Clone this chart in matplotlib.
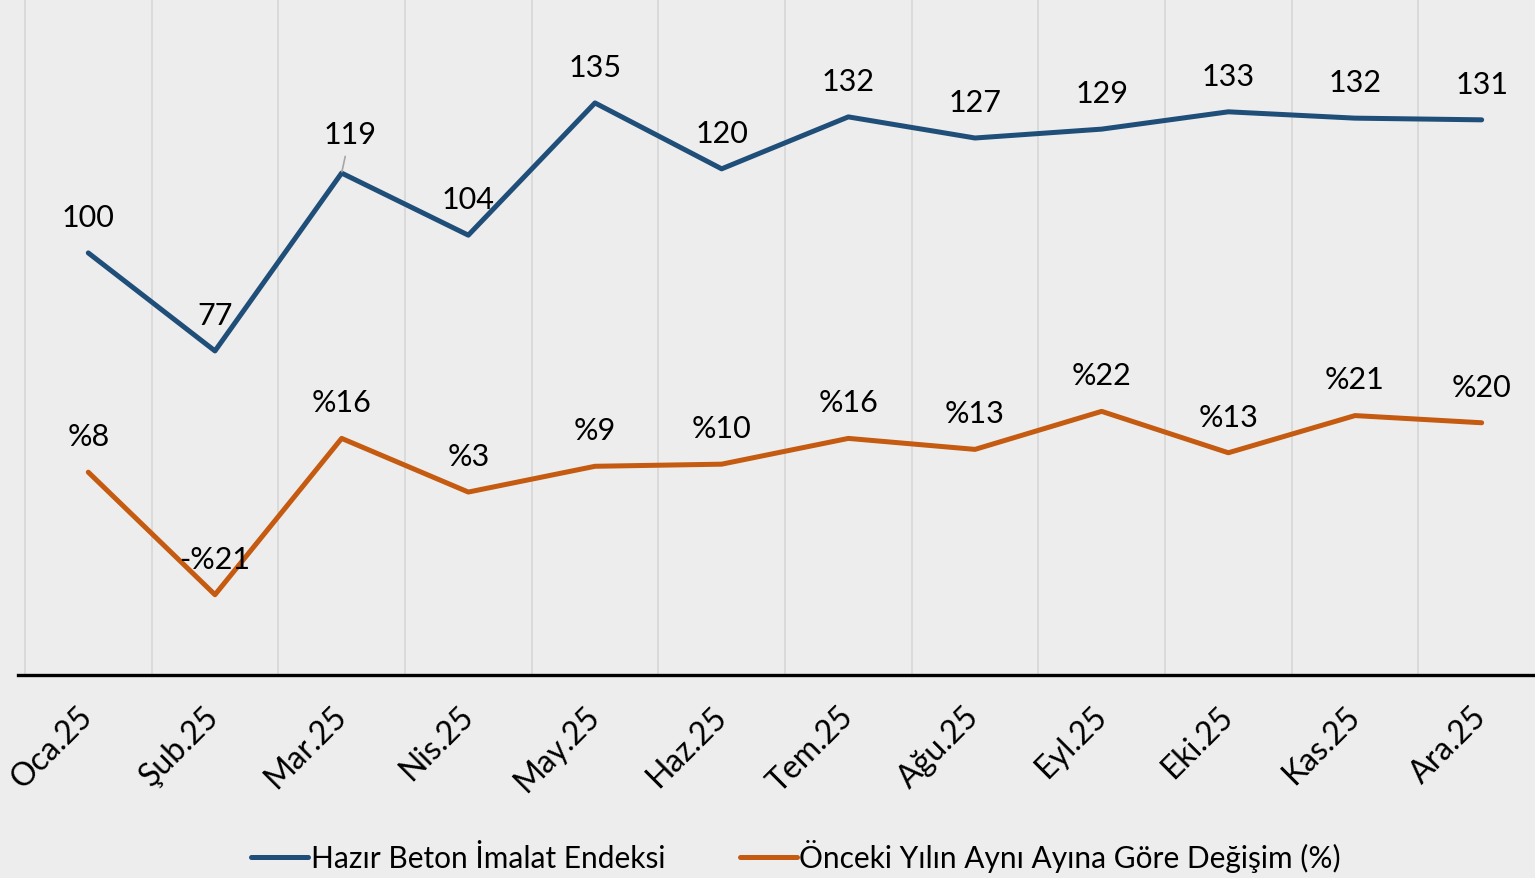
import numpy as np
import matplotlib.pyplot as plt
from matplotlib.transforms import ScaledTranslation

months = ["Oca.25", "Şub.25", "Mar.25", "Nis.25", "May.25", "Haz.25",
          "Tem.25", "Ağu.25", "Eyl.25", "Eki.25", "Kas.25", "Ara.25"]
endeks = [99.9, 76.7, 118.8, 104.1, 135.4, 119.8, 132.1, 127.1, 129.2, 133.3, 131.8, 131.4]
endeks_lbl = ["100", "77", "119", "104", "135", "120", "132", "127", "129", "133", "132", "131"]
degisim = [8.0, -21.0, 16.0, 3.3, 9.4, 9.9, 16.0, 13.4, 22.4, 12.6, 21.4, 19.7]
degisim_lbl = ["%8", "-%21", "%16", "%3", "%9", "%10", "%16", "%13", "%22", "%13", "%21", "%20"]

name1 = "Hazır Beton İmalat Endeksi"
name2 = "Önceki Yılın Aynı Ayına Göre Değişim (%)"

blue = "#1F4E79"
orange = "#C55A11"
bg = "#EDEDED"

plt.rcParams['font.family'] = ['Lato', 'DejaVu Sans']

fig = plt.figure(figsize=(15.35, 8.79), dpi=100, facecolor=bg)
ax = fig.add_axes([18/1535, 1-676/879, 1527/1535, 676/879])
ax.set_facecolor(bg)
ax2 = ax.twinx()

x = np.arange(len(months))
l1, = ax.plot(x, endeks, color=blue, lw=3.6, solid_capstyle='round', label=name1)
l2, = ax2.plot(x, degisim, color=orange, lw=3.6, solid_capstyle='round', label=name2)

ax.set_xlim(-0.555, 11.5)
ax.set_ylim(0, 160)
ax2.set_ylim(-40, 120)

# gridlines between the months
ax.set_xticks(np.arange(-0.5, 12, 1), minor=True)
ax.grid(axis='x', which='minor', color='#D9D9D9', lw=1.3)
ax.set_axisbelow(True)

# month labels drawn by hand so they can sit lower than the tick labels would
ax.set_xticks(x)
ax.set_xticklabels([])
ax.tick_params(axis='x', which='both', length=0, pad=0)
lbl_tr = ax.get_xaxis_transform() + ScaledTranslation(0, -36/100, fig.dpi_scale_trans)
for i, m in enumerate(months):
    ax.text(x[i], 0, m, transform=lbl_tr, rotation=45, ha='right', va='center',
            rotation_mode='anchor', fontsize=23, clip_on=False)

ax.set_yticks([])
ax2.set_yticks([])

for a in (ax, ax2):
    for s in ('top', 'left', 'right', 'bottom'):
        a.spines[s].set_visible(False)
ax.spines['bottom'].set_visible(True)
ax.spines['bottom'].set_color('black')
ax.spines['bottom'].set_linewidth(2.4)

for i in range(len(x)):
    if endeks_lbl[i] == "119":
        ax.annotate(endeks_lbl[i], (x[i], endeks[i]), xytext=(6, 28),
                    textcoords='offset points', ha='center', va='center', fontsize=22,
                    arrowprops=dict(arrowstyle='-', color='#A6A6A6', lw=1.2,
                                    shrinkA=4, shrinkB=1))
    else:
        ax.annotate(endeks_lbl[i], (x[i], endeks[i]), xytext=(0, 26),
                    textcoords='offset points', ha='center', va='center', fontsize=22)
    ax2.annotate(degisim_lbl[i], (x[i], degisim[i]), xytext=(0, 26),
                 textcoords='offset points', ha='center', va='center', fontsize=22)

fig.legend(handles=[l1, l2], loc='center', bbox_to_anchor=(796/1535, 1-857/879),
           ncol=2, frameon=False, fontsize=21.5, handlelength=1.9,
           handletextpad=0.1, columnspacing=2.5)

fig.savefig("out.png", dpi=100, facecolor=bg)
